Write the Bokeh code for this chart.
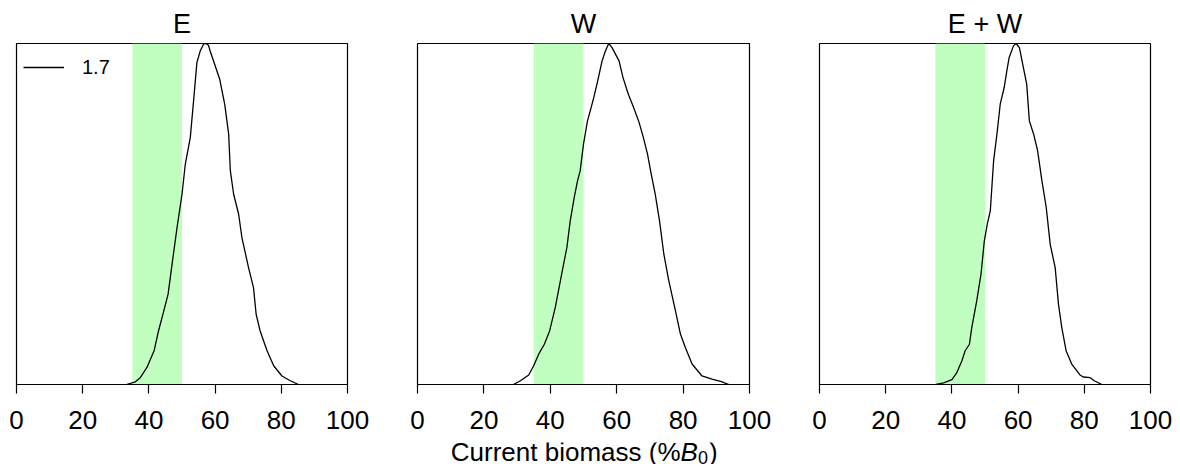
from bokeh.plotting import figure
from bokeh.layouts import row, column
from bokeh.models import Range1d, Label, Legend, LegendItem, FixedTicker
from bokeh.embed import file_html
from bokeh.resources import INLINE

# ---- data (relative density, peak = 1) ----
panel_titles = ["E", "W", "E + W"]
legend_label = "1.7"
x_ticks = [0, 20, 40, 60, 80, 100]
band_lo = [35]
band_hi = [50]

e_x = [33.2, 35.9, 37.4, 39.4, 41.6, 42.9, 44.5, 45.8, 47.0, 48.5, 50.0, 51.0, 52.5,
       53.5, 54.5, 55.5, 56.5, 57.2, 58.0, 58.5, 61.4, 62.9, 64.1, 64.6, 65.6, 67.1,
       68.1, 70.1, 71.6, 72.4, 73.6, 75.7, 77.7, 80.2, 82.7, 85.2]
e_y = [0.0, 0.008, 0.02, 0.05, 0.10, 0.157, 0.216, 0.265, 0.353, 0.46, 0.558, 0.646, 0.724,
       0.832, 0.944, 0.978, 0.998, 1.0, 0.995, 0.978, 0.895, 0.822, 0.734, 0.627, 0.558, 0.5,
       0.431, 0.343, 0.284, 0.206, 0.157, 0.099, 0.055, 0.025, 0.011, 0.0]

w_x = [28.9, 31.0, 33.5, 35.0, 36.5, 38.2, 39.8, 41.5, 43.8, 45.0, 46.0, 47.2, 48.2, 49.0,
       50.0, 51.2, 52.3, 53.1, 54.3, 55.6, 56.6, 57.6, 58.6, 60.7, 61.9, 63.5, 65.1, 66.6,
       67.9, 69.3, 70.4, 71.6, 72.9, 74.2, 75.7, 77.7, 79.2, 80.7, 82.7, 85.7, 88.7, 91.3, 93.8]
w_y = [0.0, 0.011, 0.028, 0.055, 0.089, 0.118, 0.157, 0.226, 0.343, 0.402, 0.48, 0.548, 0.597,
       0.627, 0.705, 0.773, 0.812, 0.842, 0.891, 0.949, 0.978, 1.0, 0.988, 0.949, 0.9, 0.851,
       0.812, 0.773, 0.729, 0.675, 0.617, 0.558, 0.48, 0.382, 0.304, 0.216, 0.148, 0.108, 0.06,
       0.025, 0.016, 0.009, 0.0]

ew_x = [35.2, 37.5, 40.0, 41.5, 43.0, 44.0, 45.3, 46.0, 47.5, 48.8, 49.8, 50.7, 51.6, 52.6,
        53.6, 54.6, 55.8, 56.6, 57.3, 58.6, 59.4, 60.4, 61.4, 62.6, 63.4, 64.7, 65.9, 67.2,
        68.5, 69.7, 71.2, 72.2, 73.2, 74.5, 76.2, 78.7, 79.7, 81.8, 83.0, 85.3]
ew_y = [0.0, 0.005, 0.014, 0.035, 0.069, 0.099, 0.118, 0.167, 0.245, 0.324, 0.421, 0.471, 0.509,
        0.656, 0.734, 0.822, 0.871, 0.92, 0.959, 0.993, 1.0, 0.988, 0.939, 0.881, 0.773, 0.734,
        0.685, 0.597, 0.519, 0.411, 0.343, 0.235, 0.167, 0.099, 0.06, 0.028, 0.022, 0.02, 0.011,
        0.0]

curves = [(e_x, e_y), (w_x, w_y), (ew_x, ew_y)]

FONT = "Liberation Sans"
TOTAL_W = 1180
TOP_H = 41
BOT_H = 22
FIG_H = 401
widths = [409, 402, 369]
left_borders = [16, 8, 8]
right_borders = [62, 62, 30]

figs = []
frame_centers = []
x0 = 0
for i, (cx, cy) in enumerate(curves):
    frame_w = widths[i] - left_borders[i] - right_borders[i]
    frame_centers.append(x0 + left_borders[i] + frame_w / 2.0)
    x0 += widths[i]
    p = figure(width=widths[i], height=FIG_H, output_backend="svg", toolbar_location=None,
               title=None,
               x_range=Range1d(0, 100), y_range=Range1d(0, 1), y_axis_location=None,
               min_border_left=left_borders[i], min_border_right=right_borders[i],
               min_border_top=2, min_border_bottom=58)
    p.xgrid.visible = False
    p.ygrid.visible = False
    p.outline_line_color = "black"
    p.outline_line_width = 1.2
    p.background_fill_color = "white"
    p.border_fill_color = "white"

    ax = p.xaxis[0]
    ax.ticker = FixedTicker(ticks=x_ticks)
    ax.axis_line_color = "black"
    ax.axis_line_width = 1.2
    ax.major_tick_line_color = "black"
    ax.major_tick_line_width = 1.2
    ax.major_tick_in = 0
    ax.major_tick_out = 9
    ax.minor_tick_line_color = None
    ax.major_label_text_font = FONT
    ax.major_label_text_font_size = "26px"
    ax.major_label_text_color = "black"
    ax.major_label_standoff = 17

    p.quad(left=band_lo, right=band_hi, bottom=[0], top=[1],
           fill_color="#C1FFC1", line_color=None)
    r = p.line(cx, cy, line_color="black", line_width=1.3)

    if i == 0:
        leg = Legend(items=[LegendItem(label=legend_label, renderers=[r])],
                     location="top_left", margin=0, padding=7,
                     glyph_width=41, glyph_height=34, label_height=34,
                     label_standoff=18, spacing=0,
                     label_text_font=FONT, label_text_font_size="20px",
                     label_text_color="black",
                     border_line_alpha=0, background_fill_alpha=0)
        p.add_layout(leg)
    figs.append(p)


def strip(height):
    s = figure(width=TOTAL_W, height=height, output_backend="svg", toolbar_location=None,
               title=None,
               x_range=Range1d(0, TOTAL_W), y_range=Range1d(0, height),
               x_axis_location=None, y_axis_location=None,
               min_border=0, min_border_left=0, min_border_right=0,
               min_border_top=0, min_border_bottom=0)
    s.xgrid.visible = False
    s.ygrid.visible = False
    s.outline_line_color = None
    s.background_fill_color = "white"
    s.border_fill_color = "white"
    return s


# panel titles
top = strip(TOP_H)
for title, xc in zip(panel_titles, frame_centers):
    top.add_layout(Label(x=xc, y=TOP_H - 23, text=title, text_align="center",
                         text_baseline="middle", text_font=FONT,
                         text_font_size="27px", text_color="black"))

# x-axis label: Current biomass (%B0), with italic B and subscript 0
bot = strip(BOT_H)
yb = 13
x_join = frame_centers[1] + 97
bot.add_layout(Label(x=x_join, y=yb, text="Current biomass (%", text_align="right",
                     text_baseline="middle", text_font=FONT, text_font_size="26px",
                     text_color="black"))
bot.add_layout(Label(x=x_join, y=yb, text="B", text_align="left",
                     text_baseline="middle", text_font=FONT, text_font_style="italic",
                     text_font_size="26px", text_color="black"))
bot.add_layout(Label(x=x_join + 17.5, y=yb - 6, text="0", text_align="left",
                     text_baseline="middle", text_font=FONT, text_font_size="18px",
                     text_color="black"))
bot.add_layout(Label(x=x_join + 28.5, y=yb, text=")", text_align="left",
                     text_baseline="middle", text_font=FONT, text_font_size="26px",
                     text_color="black"))

layout = column(top, row(*figs, spacing=0), bot, spacing=0)
open("out.html", "w").write(file_html(layout, INLINE))
